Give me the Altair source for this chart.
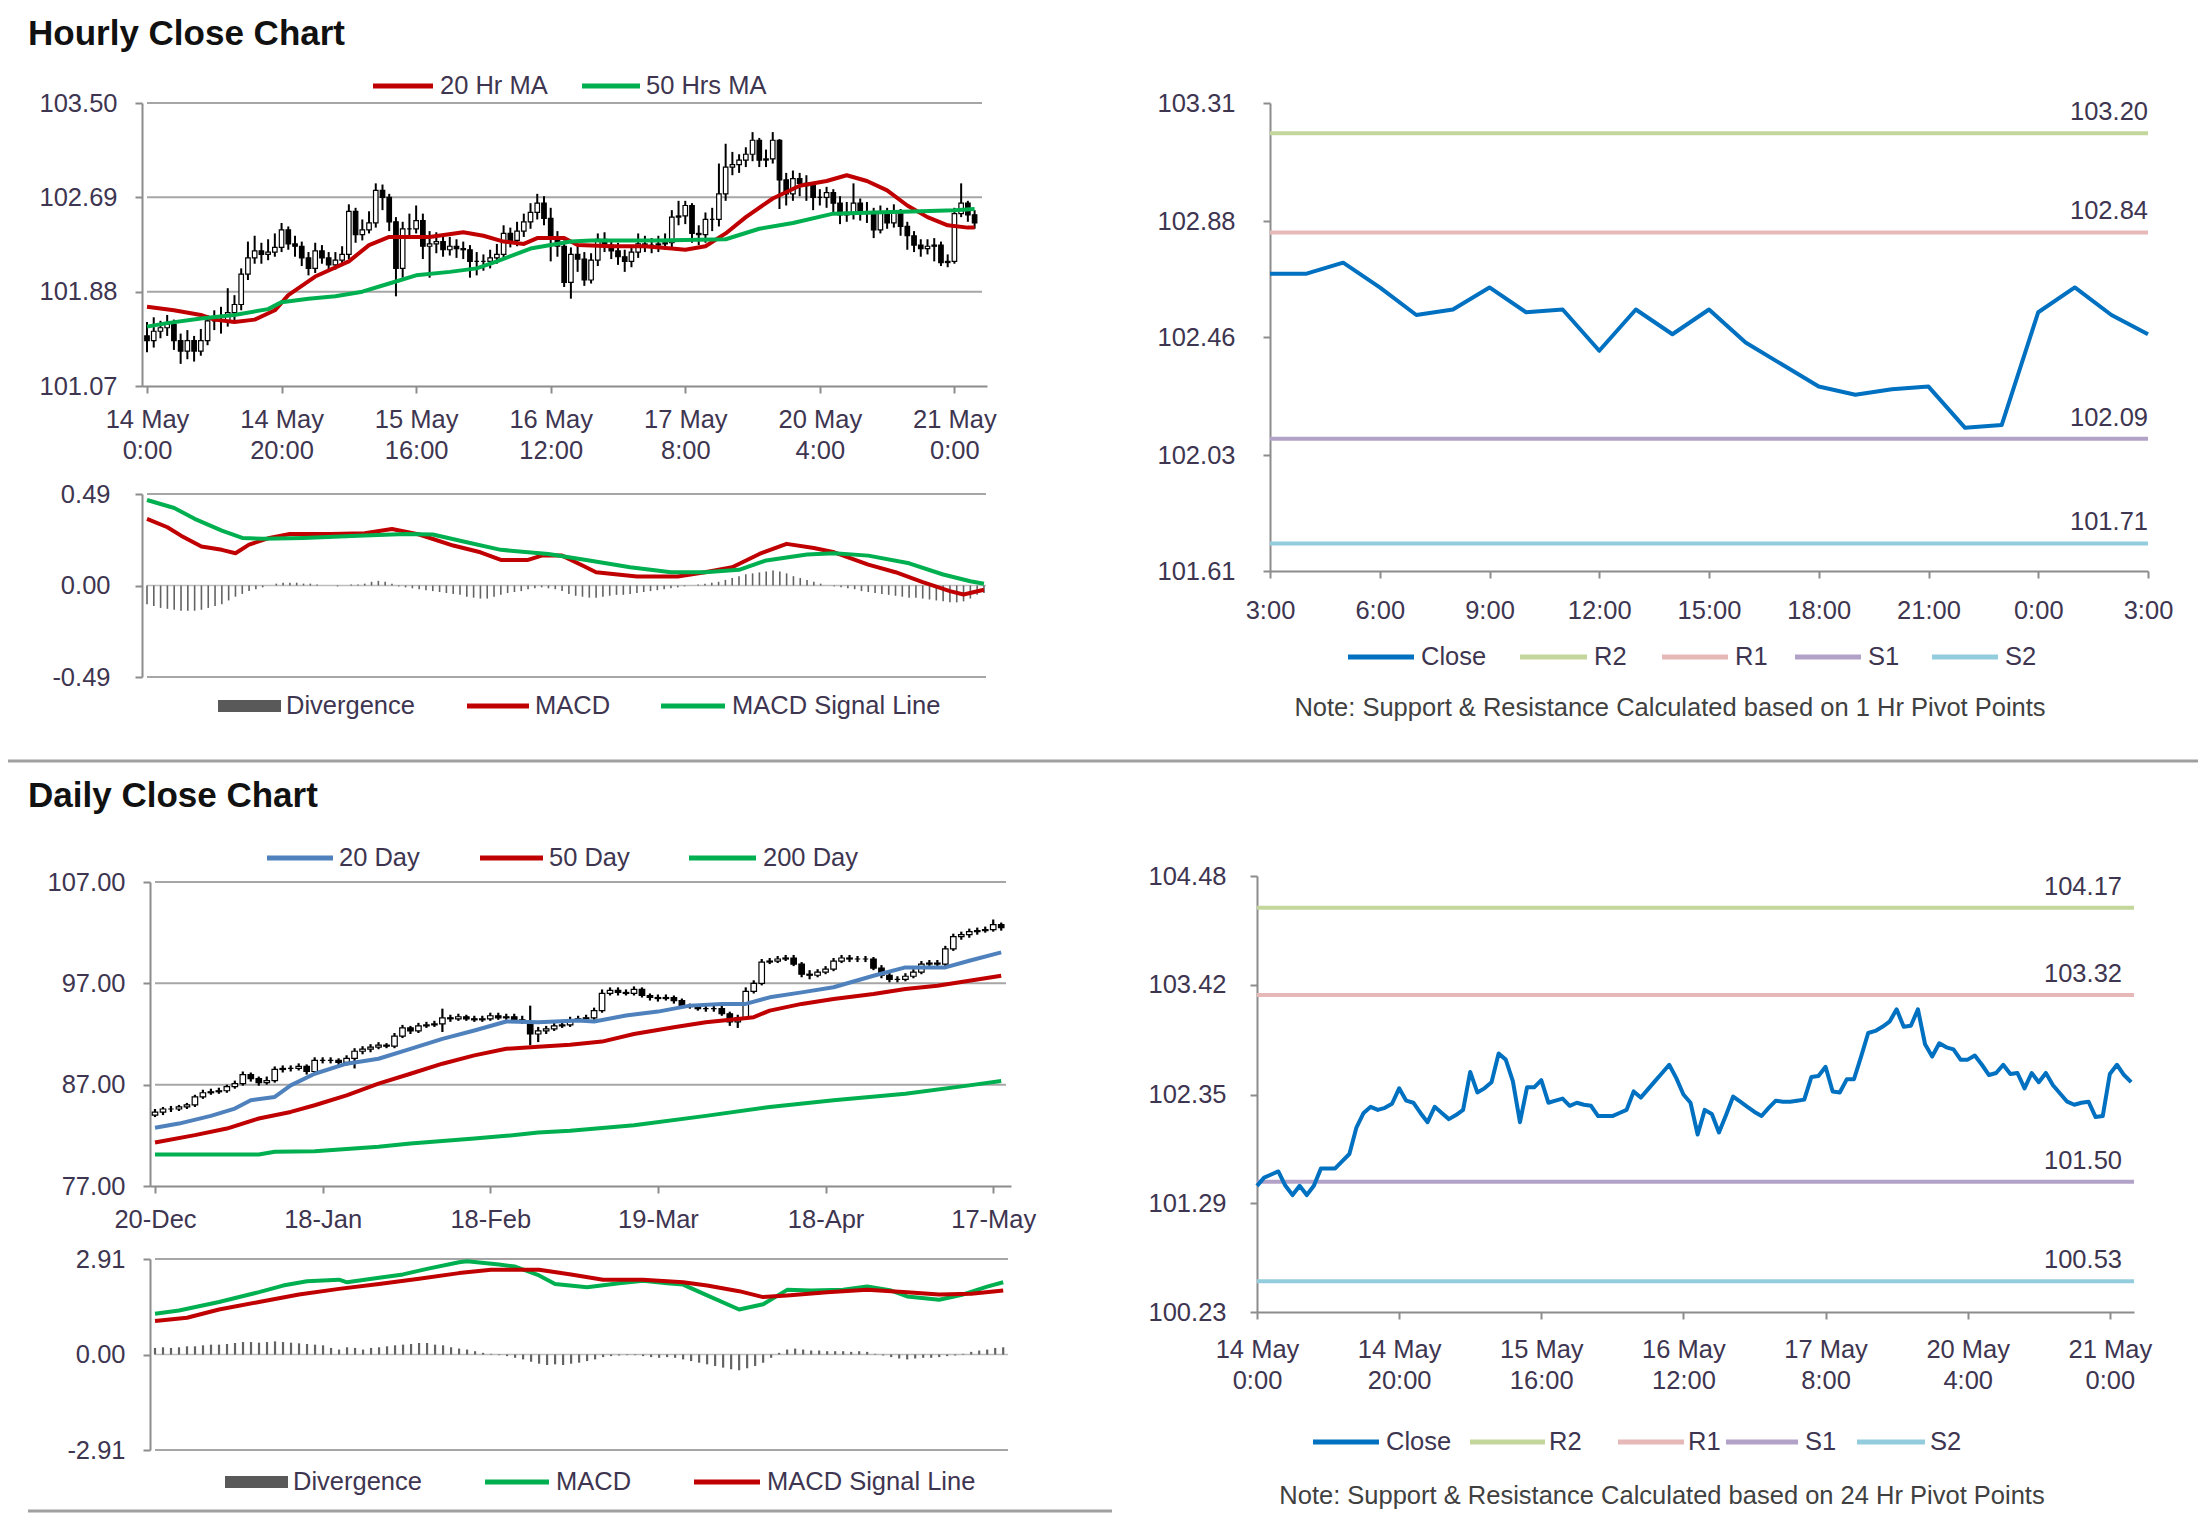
import altair as alt
import pandas as pd

# ======================= DATA =======================
# Hourly bars: 14 May 0:00 ... 21 May 3:00 (124 trading hours)
HOURLY_OPEN = [101.50,101.46,101.54,101.57,101.60,101.46,101.37,101.46,101.37,101.46,
 101.63,101.63,101.63,101.70,101.77,102.03,102.17,102.23,102.20,102.22,
 102.26,102.41,102.29,102.27,102.17,102.08,102.23,102.17,102.11,102.15,
 102.20,102.57,102.37,102.41,102.47,102.75,102.69,102.48,102.08,102.42,
 102.42,102.49,102.27,102.29,102.31,102.24,102.27,102.25,102.24,102.14,
 102.14,102.14,102.17,102.20,102.38,102.32,102.40,102.48,102.56,102.64,
 102.51,102.35,102.27,101.96,102.20,102.16,101.98,102.15,102.33,102.28,
 102.23,102.18,102.14,102.22,102.29,102.28,102.28,102.29,102.30,102.52,
 102.53,102.62,102.38,102.37,102.50,102.50,102.72,102.95,102.97,103.01,
 103.06,103.18,103.01,103.02,103.18,102.84,102.72,102.85,102.81,102.79,
 102.69,102.69,102.73,102.64,102.54,102.56,102.64,102.55,102.56,102.41,
 102.56,102.47,102.56,102.44,102.36,102.28,102.25,102.27,102.28,102.13,
 102.14,102.55,102.64,102.54]
HOURLY_HIGH = [101.62,101.66,101.63,101.68,101.64,101.52,101.55,101.50,101.56,101.68,
 101.72,101.75,101.91,101.85,102.08,102.31,102.36,102.30,102.33,102.38,
 102.47,102.44,102.36,102.31,102.22,102.30,102.28,102.22,102.22,102.27,
 102.63,102.60,102.50,102.57,102.81,102.80,102.72,102.52,102.48,102.55,
 102.62,102.55,102.40,102.39,102.36,102.35,102.33,102.31,102.28,102.22,
 102.20,102.24,102.29,102.45,102.43,102.48,102.55,102.64,102.72,102.70,
 102.60,102.40,102.32,102.26,102.28,102.22,102.21,102.38,102.39,102.33,
 102.30,102.24,102.28,102.38,102.36,102.34,102.36,102.38,102.58,102.66,
 102.66,102.64,102.45,102.56,102.60,102.98,103.15,103.08,103.06,103.12,
 103.25,103.20,103.10,103.25,103.19,102.90,102.92,102.90,102.88,102.82,
 102.76,102.78,102.76,102.70,102.65,102.81,102.68,102.65,102.60,102.62,
 102.60,102.63,102.59,102.48,102.40,102.33,102.33,102.34,102.31,102.20,
 102.60,102.81,102.66,102.58]
HOURLY_LOW = [101.36,101.40,101.48,101.50,101.38,101.26,101.30,101.28,101.33,101.42,
 101.55,101.52,101.58,101.62,101.72,101.98,102.12,102.12,102.15,102.18,
 102.22,102.24,102.18,102.10,102.02,102.04,102.12,102.06,102.07,102.10,
 102.16,102.30,102.32,102.38,102.43,102.58,102.40,101.84,102.00,102.35,
 102.38,102.16,102.00,102.21,102.18,102.19,102.17,102.16,102.00,102.02,
 102.06,102.08,102.12,102.16,102.26,102.27,102.35,102.42,102.50,102.45,
 102.14,102.18,101.92,101.82,102.05,101.93,101.95,102.10,102.22,102.16,
 102.11,102.05,102.09,102.17,102.22,102.21,102.22,102.24,102.26,102.45,
 102.46,102.30,102.28,102.30,102.40,102.44,102.66,102.88,102.90,102.95,
 103.00,102.95,102.95,102.98,102.59,102.62,102.66,102.70,102.66,102.58,
 102.62,102.60,102.55,102.46,102.48,102.50,102.49,102.47,102.34,102.38,
 102.42,102.43,102.36,102.24,102.22,102.18,102.20,102.14,102.10,102.09,
 102.12,102.52,102.48,102.42]
HOURLY_CLOSE = [101.46,101.54,101.57,101.60,101.46,101.37,101.46,101.37,101.46,101.63,
 101.63,101.63,101.70,101.77,102.03,102.17,102.23,102.20,102.22,102.26,
 102.41,102.29,102.27,102.17,102.08,102.23,102.17,102.11,102.15,102.20,
 102.57,102.37,102.41,102.47,102.75,102.69,102.48,102.08,102.42,102.42,
 102.49,102.27,102.29,102.31,102.24,102.27,102.25,102.24,102.14,102.14,
 102.14,102.17,102.20,102.38,102.32,102.40,102.48,102.56,102.64,102.51,
 102.35,102.27,101.96,102.20,102.16,101.98,102.15,102.33,102.28,102.23,
 102.18,102.14,102.22,102.29,102.28,102.28,102.29,102.30,102.52,102.53,
 102.62,102.38,102.37,102.50,102.50,102.72,102.95,102.97,103.01,103.06,
 103.18,103.01,103.02,103.18,102.84,102.72,102.85,102.81,102.79,102.69,
 102.69,102.73,102.64,102.54,102.56,102.64,102.55,102.56,102.41,102.56,
 102.47,102.56,102.44,102.36,102.28,102.25,102.27,102.28,102.13,102.14,
 102.55,102.64,102.54,102.47]
HOURLY_TICKS = [0, 20, 40, 60, 80, 100, 120]
HOURLY_TICK_LABELS = ["14 May|0:00", "14 May|20:00", "15 May|16:00", "16 May|12:00",
                      "17 May|8:00", "20 May|4:00", "21 May|0:00"]

MA20H_IDX = [0,4,8,10,13,16,19,21,25,30,33,36,39,42,47,50,53,56,58,62,64,69,74,78,80,83,86,89,93,97,101,104,107,110,113,116,119,122,123]
MA20H_VAL = [101.75,101.72,101.68,101.64,101.62,101.64,101.72,101.85,102.01,102.14,
 102.28,102.35,102.35,102.35,102.39,102.36,102.31,102.29,102.34,102.34,
 102.28,102.27,102.27,102.25,102.24,102.27,102.38,102.52,102.68,102.79,
 102.83,102.88,102.83,102.75,102.62,102.52,102.45,102.43,102.43]
MA50H_IDX = [0,3,8,13,18,20,24,28,32,36,40,45,49,52,57,60,63,66,76,86,91,96,102,108,115,120,123]
MA50H_VAL = [101.58,101.61,101.65,101.68,101.73,101.79,101.82,101.84,101.88,101.95,
 102.02,102.05,102.08,102.14,102.25,102.28,102.31,102.32,102.32,102.33,
 102.42,102.47,102.55,102.56,102.57,102.58,102.59]

MACDH_IDX = [0,3,5,8,11,13,15,18,21,27,32,36,40,45,49,52,56,58,61,64,66,72,78,82,86,90,94,98,101,106,110,114,118,120,123]
MACDH_VAL = [0.357,0.312,0.267,0.209,0.191,0.173,0.219,0.255,0.276,0.276,
 0.280,0.303,0.273,0.214,0.178,0.137,0.137,0.160,0.160,0.107,
 0.071,0.048,0.048,0.071,0.098,0.169,0.223,0.201,0.178,0.112,
 0.071,0.018,-0.030,-0.048,-0.023]
SIGH_IDX = [0,4,7,11,14,17,23,31,38,42,47,52,59,65,71,77,82,87,91,97,101,106,112,117,121,123]
SIGH_VAL = [0.458,0.415,0.357,0.294,0.255,0.250,0.255,0.267,0.276,0.273,
 0.232,0.191,0.169,0.134,0.098,0.071,0.071,0.084,0.134,0.166,
 0.173,0.160,0.119,0.059,0.023,0.009]
DIVH = [-0.10,-0.11,-0.12,-0.125,-0.13,-0.135,-0.135,-0.135,-0.13,-0.12,
 -0.11,-0.10,-0.08,-0.06,-0.045,-0.03,-0.02,-0.01,0.00,0.01,
 0.015,0.015,0.015,0.01,0.01,0.005,0.0,0.0,-0.005,0.0,
 0.005,0.005,0.01,0.02,0.025,0.02,0.01,-0.005,-0.01,-0.015,
 -0.02,-0.025,-0.03,-0.035,-0.04,-0.045,-0.05,-0.06,-0.065,-0.07,
 -0.07,-0.06,-0.05,-0.04,-0.035,-0.03,-0.02,-0.015,-0.01,-0.015,
 -0.02,-0.03,-0.045,-0.055,-0.06,-0.065,-0.065,-0.06,-0.055,-0.05,
 -0.05,-0.045,-0.04,-0.035,-0.03,-0.025,-0.02,-0.015,-0.01,-0.005,
 0.0,0.005,0.01,0.015,0.02,0.03,0.04,0.05,0.06,0.065,
 0.07,0.075,0.08,0.075,0.065,0.05,0.04,0.03,0.02,0.01,
 0.0,-0.005,-0.01,-0.015,-0.02,-0.03,-0.035,-0.04,-0.045,-0.05,
 -0.055,-0.06,-0.065,-0.065,-0.07,-0.075,-0.08,-0.085,-0.09,-0.09,
 -0.085,-0.07,-0.05,-0.04]

LAST24_START = 99   # 20 May 3:00
LAST24_TICKS = [0, 3, 6, 9, 12, 15, 18, 21, 24]
LAST24_LABELS = ["3:00", "6:00", "9:00", "12:00", "15:00", "18:00", "21:00", "0:00", "3:00"]
LEVEL_NAMES = ["R2", "R1", "S1", "S2"]
LEVELS_1H = [103.20, 102.84, 102.09, 101.71]
LEVELS_24H = [104.17, 103.32, 101.50, 100.53]

# Daily bars: 20-Dec ... 20-May (107 trading days)
DAILY_OPEN = [84.0,84.3,84.6,84.6,84.8,85.0,85.8,86.2,86.3,86.4,
 86.8,87.1,88.0,87.6,87.2,87.4,88.5,88.6,88.6,88.8,
 88.3,89.4,89.4,89.4,89.2,89.6,90.3,90.5,90.7,90.9,
 90.8,91.8,92.6,92.3,92.8,92.9,93.0,93.6,93.5,93.7,
 93.5,93.4,93.5,93.8,93.6,93.7,93.4,93.2,92.0,92.3,
 92.5,92.8,92.9,93.4,93.5,93.6,94.3,96.0,96.3,96.1,
 96.0,96.4,95.8,95.6,95.5,95.6,95.3,94.8,94.7,94.5,
 94.5,94.5,94.0,93.2,93.6,96.2,97.0,99.1,99.2,99.4,
 99.5,98.9,97.9,97.8,98.1,98.4,99.2,99.5,99.4,99.4,
 99.4,98.5,97.8,97.4,97.4,97.7,98.1,98.9,99.0,98.9,
 100.4,101.6,101.8,102.1,102.2,102.3,102.8]
DAILY_HIGH = [84.6,84.8,84.9,85.0,85.2,86.0,86.5,86.6,86.7,87.0,
 87.4,88.3,88.2,87.8,87.8,88.8,88.9,88.9,89.1,89.0,
 89.7,89.7,89.7,89.6,89.9,90.6,90.8,91.0,91.2,91.1,
 92.1,92.9,92.8,93.1,93.2,93.3,94.5,93.9,94.0,93.9,
 93.8,93.8,94.1,94.1,94.0,94.0,93.8,94.8,92.7,92.8,
 93.1,93.2,93.7,93.8,93.9,94.6,96.4,96.6,96.6,96.4,
 96.7,96.6,96.0,95.9,95.9,95.8,95.5,95.0,94.9,94.8,
 94.8,94.8,94.2,93.9,96.6,97.3,99.4,99.5,99.7,99.8,
 99.8,99.1,98.3,98.4,98.7,99.5,99.8,99.8,99.7,99.7,
 99.6,98.8,98.1,97.7,98.0,98.4,99.2,99.3,99.3,100.7,
 101.9,102.1,102.4,102.5,102.6,103.3,103.0]
DAILY_LOW = [83.8,84.0,84.3,84.4,84.6,84.8,85.6,86.0,86.1,86.2,
 86.6,86.9,87.3,86.9,87.0,87.2,88.2,88.3,88.4,88.0,
 88.0,89.1,89.1,88.9,88.9,88.6,90.0,90.2,90.5,90.6,
 90.6,91.6,92.0,92.1,92.6,92.7,92.2,93.2,93.3,93.3,
 93.2,93.2,93.3,93.4,93.4,93.2,93.0,90.9,91.2,92.0,
 92.3,92.6,92.7,93.2,93.3,93.4,94.1,95.8,95.8,95.8,
 95.8,95.6,95.3,95.2,95.3,95.0,94.6,94.5,94.3,94.2,
 94.2,93.8,92.8,92.6,93.4,96.0,96.8,98.9,99.0,99.2,
 98.7,97.6,97.4,97.6,97.9,98.2,99.0,99.1,99.1,99.1,
 98.3,97.5,97.1,97.1,97.2,97.5,97.9,98.7,98.6,98.7,
 100.2,101.3,101.5,101.8,102.0,102.1,102.2]
DAILY_CLOSE = [84.3,84.6,84.6,84.8,85.0,85.8,86.2,86.3,86.4,86.8,
 87.1,88.0,87.6,87.2,87.4,88.5,88.6,88.6,88.8,88.3,
 89.4,89.4,89.4,89.2,89.6,90.3,90.5,90.7,90.9,90.8,
 91.8,92.6,92.3,92.8,92.9,93.0,93.6,93.5,93.7,93.5,
 93.4,93.5,93.8,93.6,93.7,93.4,93.2,92.0,92.3,92.5,
 92.8,92.9,93.4,93.5,93.6,94.3,96.0,96.3,96.1,96.0,
 96.4,95.8,95.6,95.5,95.6,95.3,94.8,94.7,94.5,94.5,
 94.5,94.0,93.2,93.6,96.2,97.0,99.1,99.2,99.4,99.5,
 98.9,97.9,97.8,98.1,98.4,99.2,99.5,99.4,99.4,99.4,
 98.5,97.8,97.4,97.4,97.7,98.1,98.9,99.0,98.9,100.4,
 101.6,101.8,102.1,102.2,102.3,102.8,102.5]
DAILY_TICKS = [0, 21, 42, 63, 84, 105]
DAILY_TICK_LABELS = ["20-Dec", "18-Jan", "18-Feb", "19-Mar", "18-Apr", "17-May"]

MA20D_IDX = [0,3,7,10,12,15,17,20,24,28,32,36,40,44,48,53,55,59,63,67,71,74,77,81,85,90,94,99,102,106]
MA20D_VAL = [82.74,83.16,83.92,84.64,85.46,85.79,86.93,88.08,89.07,89.56,
 90.54,91.52,92.34,93.23,93.16,93.33,93.23,93.82,94.21,94.80,
 94.97,94.97,95.62,96.11,96.61,97.75,98.57,98.57,99.23,100.05]
MA50D_IDX = [0,5,9,13,17,20,24,28,32,36,40,44,48,52,56,60,65,69,73,75,77,81,85,90,94,98,102,106]
MA50D_VAL = [81.30,82.02,82.67,83.66,84.31,84.97,85.95,87.10,88.08,89.07,
 89.89,90.54,90.75,90.95,91.25,92.00,92.67,93.16,93.49,93.66,
 94.31,94.97,95.46,95.95,96.44,96.77,97.26,97.75]
MA200D_IDX = [0,13,15,20,24,28,32,36,40,44,48,52,60,69,77,85,94,102,106]
MA200D_VAL = [80.11,80.11,80.38,80.44,80.64,80.87,81.20,81.43,81.69,81.95,
 82.28,82.45,83.00,83.92,84.80,85.46,86.11,86.93,87.36]

MACDD_IDX = [0,3,8,13,16,19,23,24,28,31,34,38,39,43,45,48,50,54,58,61,64,66,69,73,76,79,82,86,89,92,94,98,101,104,106]
MACDD_VAL = [1.24,1.34,1.60,1.90,2.10,2.23,2.28,2.20,2.34,2.44,
 2.61,2.81,2.84,2.74,2.68,2.41,2.15,2.05,2.17,2.25,
 2.17,2.13,1.80,1.37,1.53,1.97,1.95,1.97,2.07,1.95,
 1.77,1.67,1.83,2.07,2.20]
SIGD_IDX = [0,4,8,13,18,23,28,33,38,42,48,52,56,61,66,69,73,76,79,84,89,94,98,102,106]
SIGD_VAL = [1.02,1.12,1.37,1.60,1.83,2.00,2.15,2.31,2.48,2.58,
 2.58,2.44,2.28,2.28,2.20,2.10,1.93,1.75,1.80,1.90,
 1.97,1.90,1.83,1.85,1.95]
DIVD = [0.20,0.22,0.20,0.22,0.25,0.25,0.28,0.30,0.30,0.32,
 0.35,0.38,0.38,0.36,0.38,0.40,0.38,0.36,0.34,0.32,
 0.30,0.28,0.20,0.15,0.22,0.20,0.15,0.20,0.22,0.25,
 0.28,0.30,0.32,0.35,0.35,0.30,0.28,0.22,0.18,0.15,
 0.10,0.05,0.02,-0.02,-0.05,-0.10,-0.15,-0.22,-0.28,-0.32,
 -0.30,-0.32,-0.28,-0.25,-0.20,-0.15,-0.08,-0.05,-0.03,-0.02,
 -0.02,-0.05,-0.08,-0.10,-0.08,-0.10,-0.15,-0.20,-0.25,-0.30,
 -0.35,-0.40,-0.45,-0.48,-0.42,-0.35,-0.25,-0.10,0.05,0.15,
 0.18,0.15,0.12,0.12,0.10,0.10,0.10,0.08,0.10,0.08,
 0.02,-0.03,-0.08,-0.12,-0.15,-0.12,-0.10,-0.10,-0.08,-0.05,
 -0.03,0.02,0.08,0.12,0.15,0.20,0.22]

# ======================= STYLE / LAYOUT =======================
FONT = "Liberation Sans"
W, H = 2190, 1506
M = 8  # page margin: page coordinate - M = view coordinate
AXC = "#8C8C8C"
GRIDC = "#A6A6A6"
LBL = "#3E3550"
RED = "#C00000"
GREEN = "#00B050"
BLUE20 = "#4F81BD"
CLOSEC = "#0070C0"
DIVC = "#636363"
LEVEL_COLORS = ["#C3D69B", "#E6B9B8", "#B3A2C7", "#93CDDD"]
TICK_FS = 25.5
LEG_FS = 25.5

# panels: x/y domain and pixel range (view coordinates)
P1 = dict(xd=[0, 124.1], xr=[134, 979], yd=[101.07, 103.50], yr=[378, 95])
P2 = dict(xd=[0, 123.3], xr=[134, 983], yd=[-0.49, 0.49], yr=[669, 486])
P3 = dict(xd=[0, 24], xr=[1262, 2140], yd=[101.61, 103.31], yr=[563, 95])
P4 = dict(xd=[0, 106.6], xr=[142, 1003], yd=[77, 107], yr=[1178, 874])
P5 = dict(xd=[0, 106.6], xr=[142, 1005], yd=[-2.91, 2.91], yr=[1442, 1251])
P6 = dict(xd=[0, 123.4], xr=[1249, 2126], yd=[100.23, 104.48], yr=[1304, 868])


def scales(P):
    return (alt.Scale(domain=P["xd"], range=P["xr"], nice=False, zero=False),
            alt.Scale(domain=P["yd"], range=P["yr"], nice=False, zero=False))


def label_expr(labels, step):
    arr = ",".join("'" + s + "'" for s in labels)
    return f"split([{arr}][round(datum.value/{step})], '|')"


AXIS_COMMON = dict(title=None, grid=False, domainColor=AXC, domainWidth=2,
                   tickColor=AXC, tickWidth=2, tickSize=7, labelFont=FONT,
                   labelFontSize=TICK_FS, labelColor=LBL, labelOverlap=False,
                   labelFlush=False)


def y_axis(P, values, pad=18):
    return alt.Axis(orient="left", offset=-P["xr"][0], values=values,
                    labelExpr="replace(format(datum.value, '.2f'), '\u2212', '-')",
                    labelPadding=pad, **AXIS_COMMON)


def x_axis(P, values, labels, step, pad=14):
    return alt.Axis(orient="bottom", offset=P["yr"][0] - H, values=values,
                    labelExpr=label_expr(labels, step), labelPadding=pad,
                    labelLineHeight=31, labelBaseline="top", **AXIS_COMMON)


def enc_xy(xs, ys, xax, yax, xf, yf):
    return dict(x=alt.X(f"{xf}:Q", scale=xs, axis=xax),
                y=alt.Y(f"{yf}:Q", scale=ys, axis=yax))


def hgrid(df, xs, ys, xax, yax, color=GRIDC, width=2):
    return alt.Chart(df).mark_rule(color=color, strokeWidth=width).encode(
        x=alt.X("x0:Q", scale=xs, axis=xax), x2="x1:Q",
        y=alt.Y("v:Q", scale=ys, axis=yax))


def line(idx, vals, xs, ys, xax, yax, color, width=4):
    df = pd.DataFrame({"i": idx, "v": vals})
    return alt.Chart(df).mark_line(color=color, strokeWidth=width,
                                   strokeJoin="round").encode(**enc_xy(xs, ys, xax, yax, "i", "v"))


def candles(df, xs, ys, xax, yax, body, wick_w):
    wick = alt.Chart(df).mark_rule(color="black", strokeWidth=wick_w).encode(
        x=alt.X("i:Q", scale=xs, axis=xax), y=alt.Y("l:Q", scale=ys, axis=yax), y2="h:Q")
    bod = alt.Chart(df).mark_bar(size=body, stroke="black", strokeWidth=1.2).encode(
        x=alt.X("i:Q", scale=xs, axis=xax), y=alt.Y("o:Q", scale=ys, axis=yax), y2="c:Q",
        fill=alt.condition("datum.c >= datum.o", alt.value("white"), alt.value("black")))
    return [wick, bod]


def div_bars(vals, xs, ys, xax, yax, size):
    df = pd.DataFrame({"i": list(range(len(vals))), "d": vals, "z": [0.0] * len(vals)})
    return alt.Chart(df).mark_bar(size=size, color=DIVC).encode(
        x=alt.X("i:Q", scale=xs, axis=xax), y=alt.Y("d:Q", scale=ys, axis=yax), y2="z:Q")


def levels(P, values, xs, ys, xax, yax, label_dx):
    df = pd.DataFrame({"name": LEVEL_NAMES, "v": values, "col": LEVEL_COLORS,
                       "x0": P["xd"][0], "x1": P["xd"][1]})
    rules = alt.Chart(df).mark_rule(strokeWidth=4).encode(
        x=alt.X("x0:Q", scale=xs, axis=xax), x2="x1:Q",
        y=alt.Y("v:Q", scale=ys, axis=yax), color=alt.Color("col:N", scale=None))
    txt = alt.Chart(df).mark_text(align="right", baseline="middle", dy=-21, dx=label_dx,
                                  font=FONT, fontSize=TICK_FS, color=LBL).encode(
        x=alt.X("x1:Q", scale=xs, axis=xax), y=alt.Y("v:Q", scale=ys, axis=yax),
        text=alt.Text("v:Q", format=".2f"))
    return [rules, txt]


# ---------------- Panel 1: hourly candles ----------------
xs, ys = scales(P1)
xa = x_axis(P1, HOURLY_TICKS, HOURLY_TICK_LABELS, 20)
ya = y_axis(P1, [101.07, 101.88, 102.69, 103.50])
hourly = pd.DataFrame({"i": list(range(len(HOURLY_CLOSE))), "o": HOURLY_OPEN,
                       "h": HOURLY_HIGH, "l": HOURLY_LOW, "c": HOURLY_CLOSE})
g1 = pd.DataFrame({"v": [101.88, 102.69, 103.50], "x0": P1["xd"][0], "x1": P1["xd"][1]})
panel1 = alt.layer(hgrid(g1, xs, ys, xa, ya), *candles(hourly, xs, ys, xa, ya, 4.5, 2),
                   line(MA20H_IDX, MA20H_VAL, xs, ys, xa, ya, RED),
                   line(MA50H_IDX, MA50H_VAL, xs, ys, xa, ya, GREEN))

# ---------------- Panel 2: hourly MACD ----------------
xs, ys = scales(P2)
ya = y_axis(P2, [-0.49, 0.0, 0.49], pad=25)
g2 = pd.DataFrame({"v": [-0.49, 0.49], "x0": P2["xd"][0], "x1": P2["xd"][1]})
z2 = pd.DataFrame({"v": [0.0], "x0": P2["xd"][0], "x1": P2["xd"][1]})
panel2 = alt.layer(hgrid(g2, xs, ys, None, ya), hgrid(z2, xs, ys, None, ya, "#BDBDBD", 1.5),
                   div_bars(DIVH, xs, ys, None, ya, 1.6),
                   line(MACDH_IDX, MACDH_VAL, xs, ys, None, ya, RED),
                   line(SIGH_IDX, SIGH_VAL, xs, ys, None, ya, GREEN))

# ---------------- Panel 3: last 24 hours with 1 Hr pivots ----------------
xs, ys = scales(P3)
xa = x_axis(P3, LAST24_TICKS, LAST24_LABELS, 3, pad=20)
ya = y_axis(P3, [101.61, 102.03, 102.46, 102.88, 103.31], pad=28)
last = HOURLY_CLOSE[LAST24_START:]
panel3 = alt.layer(*levels(P3, LEVELS_1H, xs, ys, xa, ya, 0),
                   line(list(range(len(last))), last, xs, ys, xa, ya, CLOSEC))

# ---------------- Panel 4: daily candles ----------------
xs, ys = scales(P4)
xa = x_axis(P4, DAILY_TICKS, DAILY_TICK_LABELS, 21)
ya = y_axis(P4, [77, 87, 97, 107])
daily = pd.DataFrame({"i": list(range(len(DAILY_CLOSE))), "o": DAILY_OPEN,
                      "h": DAILY_HIGH, "l": DAILY_LOW, "c": DAILY_CLOSE})
g4 = pd.DataFrame({"v": [87, 97, 107], "x0": P4["xd"][0], "x1": P4["xd"][1]})
panel4 = alt.layer(hgrid(g4, xs, ys, xa, ya), *candles(daily, xs, ys, xa, ya, 5.5, 2.2),
                   line(MA20D_IDX, MA20D_VAL, xs, ys, xa, ya, BLUE20),
                   line(MA50D_IDX, MA50D_VAL, xs, ys, xa, ya, RED),
                   line(MA200D_IDX, MA200D_VAL, xs, ys, xa, ya, GREEN))

# ---------------- Panel 5: daily MACD ----------------
xs, ys = scales(P5)
ya = y_axis(P5, [-2.91, 0.0, 2.91])
g5 = pd.DataFrame({"v": [-2.91, 2.91], "x0": P5["xd"][0], "x1": P5["xd"][1]})
z5 = pd.DataFrame({"v": [0.0], "x0": P5["xd"][0], "x1": P5["xd"][1]})
panel5 = alt.layer(hgrid(g5, xs, ys, None, ya), hgrid(z5, xs, ys, None, ya, "#BDBDBD", 1.5),
                   div_bars(DIVD, xs, ys, None, ya, 2.2),
                   line(MACDD_IDX, MACDD_VAL, xs, ys, None, ya, GREEN),
                   line(SIGD_IDX, SIGD_VAL, xs, ys, None, ya, RED))

# ---------------- Panel 6: hourly close with 24 Hr pivots ----------------
xs, ys = scales(P6)
xa = x_axis(P6, HOURLY_TICKS, HOURLY_TICK_LABELS, 20, pad=18)
ya = y_axis(P6, [100.23, 101.29, 102.35, 103.42, 104.48], pad=24)
panel6 = alt.layer(*levels(P6, LEVELS_24H, xs, ys, xa, ya, -12),
                   line(list(range(len(HOURLY_CLOSE))), HOURLY_CLOSE, xs, ys, xa, ya, CLOSEC))

# ---------------- titles, legends, notes, separators (page pixel layout) ----------------
PX = dict(scale=None, axis=None)

TITLES = pd.DataFrame({"x": [28 - M, 28 - M], "y": [34 - M, 796 - M],
                       "t": ["Hourly Close Chart", "Daily Close Chart"]})
# legend line symbols: x0, x1, y, colour (page coords)
LEG_LINES = [
    (373, 433, 86, RED), (582, 640, 86, GREEN),
    (467, 529, 706, RED), (661, 725, 706, GREEN),
    (1348, 1414, 657, CLOSEC), (1520, 1587, 657, LEVEL_COLORS[0]), (1662, 1728, 657, LEVEL_COLORS[1]),
    (1795, 1861, 657, LEVEL_COLORS[2]), (1932, 1998, 657, LEVEL_COLORS[3]),
    (267, 333, 858, BLUE20), (480, 543, 858, RED), (689, 756, 858, GREEN),
    (485, 549, 1482, GREEN), (694, 760, 1482, RED),
    (1313, 1379, 1442, CLOSEC), (1470, 1545, 1442, LEVEL_COLORS[0]), (1618, 1684, 1442, LEVEL_COLORS[1]),
    (1726, 1798, 1442, LEVEL_COLORS[2]), (1857, 1925, 1442, LEVEL_COLORS[3]),
]
LEG_BOXES = [(218, 281, 706), (225, 288, 1482)]
LEG_TEXT = [
    (440, 86, "20 Hr MA"), (646, 86, "50 Hrs MA"),
    (286, 706, "Divergence"), (535, 706, "MACD"), (732, 706, "MACD Signal Line"),
    (1421, 657, "Close"), (1594, 657, "R2"), (1735, 657, "R1"), (1868, 657, "S1"), (2005, 657, "S2"),
    (339, 858, "20 Day"), (549, 858, "50 Day"), (763, 858, "200 Day"),
    (293, 1482, "Divergence"), (556, 1482, "MACD"), (767, 1482, "MACD Signal Line"),
    (1386, 1442, "Close"), (1549, 1442, "R2"), (1688, 1442, "R1"), (1805, 1442, "S1"), (1930, 1442, "S2"),
]
NOTES = [(1670, 708, "Note: Support & Resistance Calculated based on 1 Hr Pivot Points"),
         (1662, 1496, "Note: Support & Resistance Calculated based on 24 Hr Pivot Points")]
SEPARATORS = [(0, 2206, 761), (28, 1112, 1511)]

titles = alt.Chart(TITLES).mark_text(align="left", baseline="middle", font=FONT,
                                     fontSize=35, fontWeight="bold", color="#111111").encode(
    x=alt.X("x:Q", **PX), y=alt.Y("y:Q", **PX), text="t:N")

ll = pd.DataFrame(LEG_LINES, columns=["x0", "x1", "y", "c"])
ll[["x0", "x1", "y"]] -= M
leg_lines = alt.Chart(ll).mark_rule(strokeWidth=5).encode(
    x=alt.X("x0:Q", **PX), x2="x1:Q", y=alt.Y("y:Q", **PX), color=alt.Color("c:N", scale=None))

lb = pd.DataFrame(LEG_BOXES, columns=["x0", "x1", "y"])
lb["x0"] -= M
lb["x1"] -= M
lb["y0"] = lb["y"] - M - 6
lb["y1"] = lb["y"] - M + 6
leg_boxes = alt.Chart(lb).mark_rect(color="#595959").encode(
    x=alt.X("x0:Q", **PX), x2="x1:Q", y=alt.Y("y0:Q", **PX), y2="y1:Q")

lt = pd.DataFrame(LEG_TEXT, columns=["x", "y", "t"])
lt[["x", "y"]] -= M
leg_text = alt.Chart(lt).mark_text(align="left", baseline="middle", font=FONT,
                                   fontSize=LEG_FS, color=LBL).encode(
    x=alt.X("x:Q", **PX), y=alt.Y("y:Q", **PX), text="t:N")

nt = pd.DataFrame(NOTES, columns=["x", "y", "t"])
nt[["x", "y"]] -= M
notes = alt.Chart(nt).mark_text(align="center", baseline="middle", font=FONT,
                                fontSize=25.5, color="#404040").encode(
    x=alt.X("x:Q", **PX), y=alt.Y("y:Q", **PX), text="t:N")

sp = pd.DataFrame(SEPARATORS, columns=["x0", "x1", "y"])
sp[["x0", "x1", "y"]] -= M
seps = alt.Chart(sp).mark_rule(color="#A0A0A0", strokeWidth=3).encode(
    x=alt.X("x0:Q", **PX), x2="x1:Q", y=alt.Y("y:Q", **PX))

chart = alt.layer(panel1, panel2, panel3, panel4, panel5, panel6,
                  titles, leg_lines, leg_boxes, leg_text, notes, seps).resolve_scale(
    x="independent", y="independent", color="independent"
).properties(
    width=W, height=H, padding=0, background="white",
    autosize=alt.AutoSizeParams(type="none")
).configure_view(stroke=None)

chart.save("out.html", embed_options={"renderer": "svg", "actions": False})
